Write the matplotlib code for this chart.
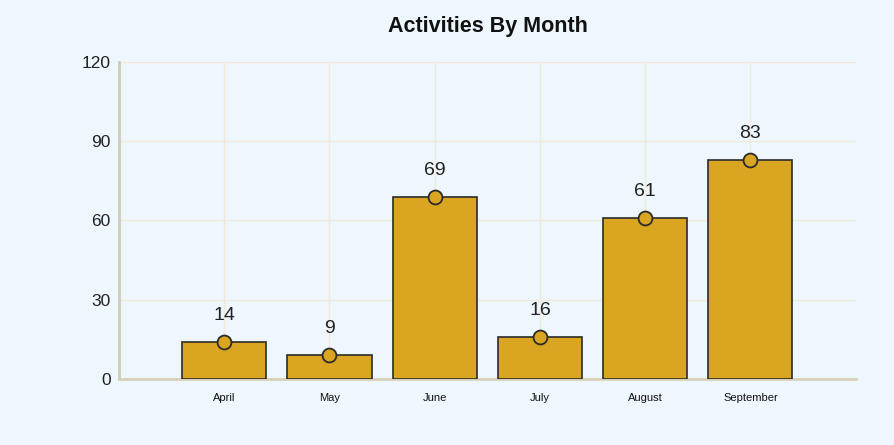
import matplotlib.pyplot as plt
import numpy as np

months = ["April", "May", "June", "July", "August", "September"]
activities = [14, 9, 69, 16, 61, 83]
y_ticks = [0, 30, 60, 90, 120]

plt.rcParams['font.family'] = ['Liberation Sans', 'DejaVu Sans']

bg = '#EEF6FE'
gold = '#DAA520'

fig = plt.figure(figsize=(8.95, 4.45), dpi=100, facecolor=bg)
ax = fig.add_axes([0.133, 0.148, 0.823, 0.713], facecolor=bg)

x = np.arange(len(months))
ax.bar(x, activities, width=0.8, color=gold, edgecolor='#2b2b2b', linewidth=1.2, zorder=3)
ax.plot(x, activities, 'o', markersize=10, markerfacecolor=gold,
        markeredgecolor='#2b2b2b', markeredgewidth=1.3, linestyle='none', zorder=4)

# value labels above each bar
for xi, v in zip(x, activities):
    ax.annotate(str(v), (xi, v), xytext=(0, 13), textcoords='offset points',
                ha='center', va='bottom', fontsize=14, color='#222222', zorder=5)

ax.set_xlim(-1, 6)
ax.set_ylim(0, 120)
ax.set_xticks(x)
ax.set_xticklabels(months, fontsize=8, color='#111111')
ax.set_yticks(y_ticks)
ax.tick_params(axis='y', labelsize=12.5, colors='#222222', length=0, pad=6)
ax.tick_params(axis='x', length=0, pad=10)

ax.grid(True, color='#F1E9DA', linewidth=1, zorder=0)
for side in ['top', 'right']:
    ax.spines[side].set_visible(False)
ax.spines['left'].set_color('#CFCBB8')
ax.spines['left'].set_linewidth(2)
ax.spines['bottom'].set_color('#D9D0B8')
ax.spines['bottom'].set_linewidth(2)

fig.text(0.545, 0.94, "Activities By Month", ha='center', va='center',
         fontsize=15.5, fontweight='bold', color='#111111')

fig.savefig('out.png', dpi=100, facecolor=bg)
